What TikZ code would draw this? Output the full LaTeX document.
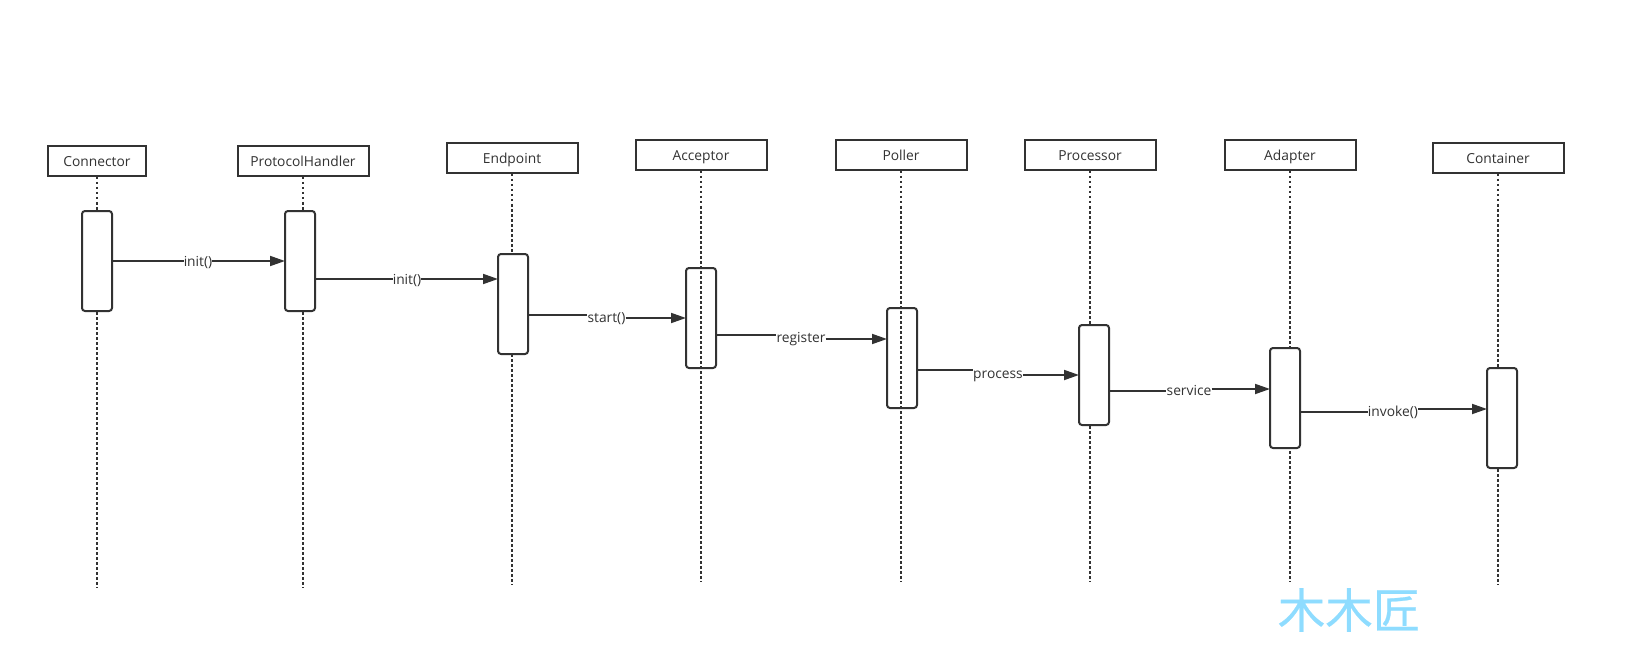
\documentclass[tikz,border=0pt]{standalone}
\usepackage{fontspec}
\setmainfont{Open Sans}
\newfontfamily\cjk[FakeBold=0.5]{Noto Sans CJK SC}
\usetikzlibrary{arrows.meta}
\definecolor{mainink}{HTML}{323232}
\definecolor{markblue}{HTML}{8EDCFF}
\tikzset{
  header/.style={draw=mainink, line width=2pt, fill=white, minimum width=131pt, minimum height=30pt, inner sep=0pt, text height=14pt, text depth=3pt, font=\fontsize{13.8}{16}\selectfont, text=mainink},
  activation/.style={draw=mainink, line width=2pt, fill=white, rounded corners=3pt, minimum width=30pt, minimum height=100pt, inner sep=0pt, outer sep=0pt},
  lifeline/.style={line width=2.2pt, color=mainink, dash pattern=on 2.5pt off 2.5pt},
  link/.style={line width=1.8pt, color=mainink},
  msg/.style={-{Triangle[length=15pt, width=10pt]}, line width=1.8pt, color=mainink},
  msglabel/.style={inner sep=0pt, fill=white, text height=13pt, text depth=3pt, font=\fontsize{13.8}{16}\selectfont, text=mainink}
}
\begin{document}
\begin{tikzpicture}[x=1pt, y=-1pt]
\useasboundingbox (0,0) rectangle (1626,650);
% objects
\node[header, minimum width=98pt] (connector) at (97,161) {Connector};
\node[header] (handler) at (303,161) {ProtocolHandler};
\node[header] (endpoint) at (512,158) {Endpoint};
\node[header] (acceptor) at (701,155) {Acceptor};
\node[header] (poller) at (901,155) {Poller};
\node[header] (processor) at (1090,155) {Processor};
\node[header] (adapter) at (1290,155) {Adapter};
\node[header] (container) at (1498,158) {Container};
% the two bars the dotted line runs across
\node[activation] (actAcceptor) at (701,318) {};
\node[activation] (actPoller) at (902,358) {};
% lifelines
\coordinate (endConnector) at (97,588);
\coordinate (endHandler) at (303,588);
\coordinate (endEndpoint) at (512,585);
\coordinate (endAcceptor) at (701,582);
\coordinate (endPoller) at (901,582);
\coordinate (endProcessor) at (1090,582);
\coordinate (endAdapter) at (1290,582);
\coordinate (endContainer) at (1498,585);
\draw[lifeline] (connector.south) -- (endConnector);
\draw[lifeline] (handler.south) -- (endHandler);
\draw[lifeline] (endpoint.south) -- (endEndpoint);
\draw[lifeline] (acceptor.south) -- (endAcceptor);
\draw[lifeline] (poller.south) -- (endPoller);
\draw[lifeline] (processor.south) -- (endProcessor);
\draw[lifeline] (adapter.south) -- (endAdapter);
\draw[lifeline] (container.south) -- (endContainer);
% remaining bars
\node[activation] (actConnector) at (97,261) {};
\node[activation] (actHandler) at (300,261) {};
\node[activation] (actEndpoint) at (513,304) {};
\node[activation] (actProcessor) at (1094,375) {};
\node[activation] (actAdapter) at (1285,398) {};
\node[activation] (actContainer) at (1502,418) {};
% messages
\node[msglabel] (lblInitA) at (198,261) {init()};
\draw[link] (actConnector.east |- 0,261) -- (lblInitA.west |- 0,261);
\draw[msg] (lblInitA.east |- 0,261) -- (actHandler.west |- 0,261);
\node[msglabel] (lblInitB) at (407,279) {init()};
\draw[link] (actHandler.east |- 0,279) -- (lblInitB.west |- 0,279);
\draw[msg] (lblInitB.east |- 0,279) -- (actEndpoint.west |- 0,279);
\node[msglabel] (lblStart) at (606.5,317) {start()};
\draw[link] (actEndpoint.east |- 0,315) -- (lblStart.west |- 0,315);
\draw[msg] (lblStart.east |- 0,318) -- (actAcceptor.west |- 0,318);
\node[msglabel] (lblRegister) at (801,337) {register};
\draw[link] (actAcceptor.east |- 0,335) -- (lblRegister.west |- 0,335);
\draw[msg] (lblRegister.east |- 0,339) -- (actPoller.west |- 0,339);
\node[msglabel] (lblProcess) at (998,373) {process};
\draw[link] (actPoller.east |- 0,370) -- (lblProcess.west |- 0,370);
\draw[msg] (lblProcess.east |- 0,375) -- (actProcessor.west |- 0,375);
\node[msglabel] (lblService) at (1189,390) {service};
\draw[link] (actProcessor.east |- 0,391) -- (lblService.west |- 0,391);
\draw[msg] (lblService.east |- 0,389) -- (actAdapter.west |- 0,389);
\node[msglabel] (lblInvoke) at (1393,411) {invoke()};
\draw[link] (actAdapter.east |- 0,412) -- (lblInvoke.west |- 0,412);
\draw[msg] (lblInvoke.east |- 0,409) -- (actContainer.west |- 0,409);
% watermark
\node[inner sep=0pt, text=markblue, font=\cjk\fontsize{47.5}{50}\selectfont] (mark) at (1349,610) {木木匠};
\end{tikzpicture}
\end{document}
